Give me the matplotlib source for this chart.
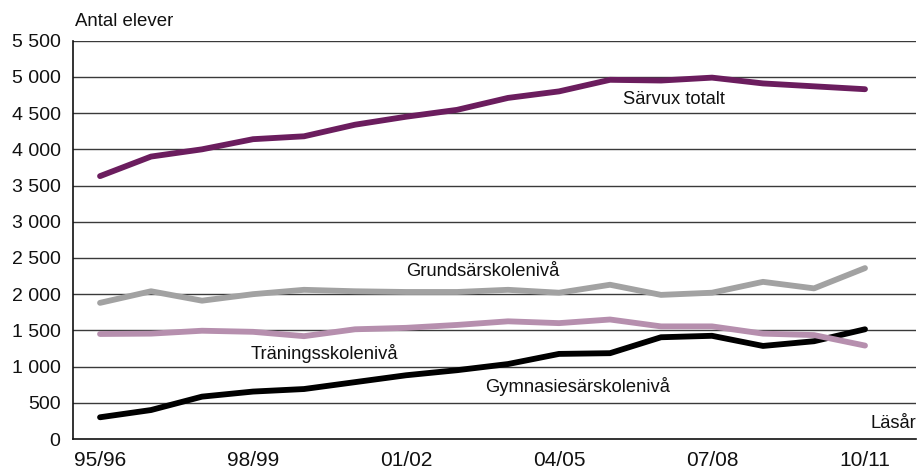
import matplotlib
matplotlib.use("Agg")
import matplotlib.pyplot as plt

plt.rcParams['font.family'] = ['Liberation Sans', 'DejaVu Sans']

years = ["95/96", "96/97", "97/98", "98/99", "99/00", "00/01", "01/02", "02/03",
         "03/04", "04/05", "05/06", "06/07", "07/08", "08/09", "09/10", "10/11"]

sarvux_totalt = [3630, 3900, 4000, 4140, 4180, 4340, 4450, 4545,
                 4710, 4800, 4960, 4950, 4990, 4910, 4870, 4830]
grundsar = [1880, 2040, 1910, 2000, 2060, 2040, 2030, 2030,
            2060, 2020, 2130, 1990, 2020, 2170, 2080, 2360]
traning = [1450, 1455, 1495, 1480, 1420, 1515, 1535, 1575,
           1625, 1600, 1650, 1555, 1555, 1455, 1435, 1290]
gymnasie = [300, 400, 585, 655, 690, 785, 880, 950,
            1035, 1175, 1185, 1405, 1425, 1285, 1350, 1515]

y_ticks = [0, 500, 1000, 1500, 2000, 2500, 3000, 3500, 4000, 4500, 5000, 5500]
y_tick_labels = ["0", "500", "1 000", "1 500", "2 000", "2 500", "3 000",
                 "3 500", "4 000", "4 500", "5 000", "5 500"]
x_tick_labels = ["95/96", "98/99", "01/02", "04/05", "07/08", "10/11"]

W, H = 917, 471
fig = plt.figure(figsize=(W / 100, H / 100), dpi=100)
ax = fig.add_axes([73 / W, (H - 439) / H, (916 - 73) / W, (439 - 40.7) / H])

x = list(range(len(years)))

ax.set_ylim(0, 5500)
ax.set_xlim(-0.53, 16.0)
for yv in y_ticks[1:]:
    ax.axhline(yv, color="#3a3a3a", lw=1.0, zorder=1)

lw = 4.2
ax.plot(x, gymnasie, color="#000000", lw=lw, solid_capstyle="round", zorder=3)
ax.plot(x, traning, color="#b68fae", lw=lw, solid_capstyle="round", zorder=3)
ax.plot(x, grundsar, color="#a2a2a2", lw=lw, solid_capstyle="round", zorder=3)
ax.plot(x, sarvux_totalt, color="#6b1d5e", lw=lw, solid_capstyle="round", zorder=3)

ax.set_yticks(y_ticks)
ax.set_yticklabels(y_tick_labels)
ax.set_xticks([years.index(t) for t in x_tick_labels])
ax.set_xticklabels(x_tick_labels)
ax.tick_params(axis="both", length=0, colors="#111111")
ax.tick_params(axis="y", pad=9, labelsize=14)
ax.tick_params(axis="x", pad=9, labelsize=15)

for side in ("top", "right"):
    ax.spines[side].set_visible(False)
for side in ("left", "bottom"):
    ax.spines[side].set_color("#111111")
    ax.spines[side].set_linewidth(1.2)

lab = dict(fontsize=13.2, color="#111111", va="center")
ax.text(10.25, 4690, "Särvux totalt", ha="left", **lab)
ax.text(7.5, 2310, "Grundsärskolenivå", ha="center", **lab)
ax.text(4.4, 1183, "Träningsskolenivå", ha="center", **lab)
ax.text(9.37, 722, "Gymnasiesärskolenivå", ha="center", **lab)
ax.text(16.0, 220, "Läsår", ha="right", **lab)

fig.text(75 / W, 1 - 22 / H, "Antal elever", ha="left", va="center",
         fontsize=13.4, color="#111111")

fig.savefig("out.png", dpi=100)
